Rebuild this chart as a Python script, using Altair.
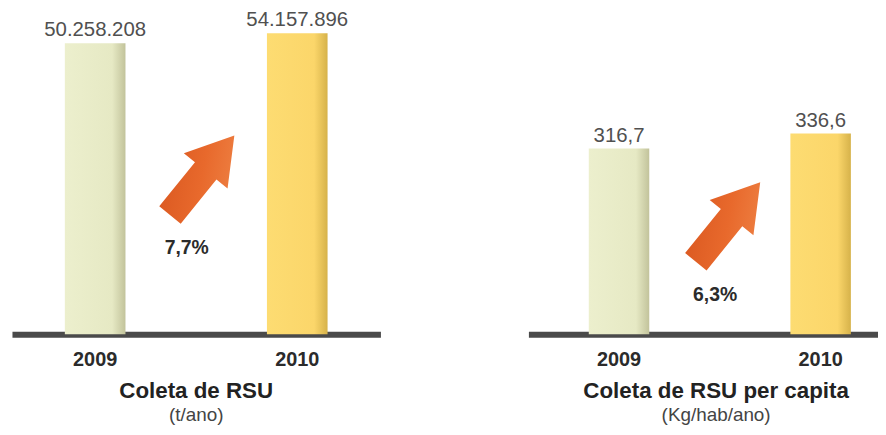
import altair as alt
import pandas as pd

# ---- data ----
years = ["2009", "2010"]
coleta = [50258208, 54157896]
coleta_labels = ["50.258.208", "54.157.896"]
percapita = [316.7, 336.6]
percapita_labels = ["316,7", "336,6"]
growth = ["7,7%", "6,3%"]
titles = ["Coleta de RSU", "Coleta de RSU per capita"]
units = ["(t/ano)", "(Kg/hab/ano)"]

# ---- style ----
FONT = "Liberation Sans"
PLOT_H = 327
ARROW = "M 0 -1 L 0.55 -0.11 L 0.27 -0.11 L 0.27 1 L -0.27 1 L -0.27 -0.11 L -0.55 -0.11 Z"

bar_stops = [
    [("#ecefcd", 0.0), ("#e6e9c4", 0.78), ("#c2c39b", 1.0)],
    [("#fddc72", 0.0), ("#fbd66a", 0.78), ("#d6b24a", 1.0)],
]
arrow_fill = alt.Gradient(
    gradient="linear", x1=1, y1=0, x2=0, y2=1,
    stops=[alt.GradientStop(color="#f0884a", offset=0),
           alt.GradientStop(color="#e8692c", offset=0.5),
           alt.GradientStop(color="#d8561f", offset=1)],
)


def panel(values, labels, pct, title, unit, width, ydom, pad_outer, align,
          arrow_xy, pct_xy, title_dx):
    df = pd.DataFrame({"ano": years, "valor": values, "rotulo": labels})
    x = alt.X(
        "ano:N",
        title=None,
        scale=alt.Scale(domain=years, paddingInner=0.7, paddingOuter=pad_outer, align=align),
        axis=alt.Axis(
            domain=True, domainColor="#4a4a4a", domainWidth=6, domainCap="butt",
            ticks=False, tickSize=0, labelPadding=16, labelAngle=0,
            labelFont=FONT, labelFontSize=20, labelFontWeight="bold", labelColor="#2b2b2b",
            grid=False,
        ),
    )
    y = alt.Y("valor:Q", scale=alt.Scale(domain=ydom, zero=False, nice=False), axis=None)
    base = alt.Chart(df)
    layers = []
    for yr, stops in zip(years, bar_stops):
        grad = alt.Gradient(
            gradient="linear", x1=0, y1=0, x2=1, y2=0,
            stops=[alt.GradientStop(color=c, offset=o) for c, o in stops],
        )
        layers.append(
            base.transform_filter(alt.datum.ano == yr)
            .mark_bar(fill=grad)
            .encode(x=x, y=y, y2=alt.datum(ydom[0]))
        )
    layers.append(
        base.mark_text(dy=-7, baseline="alphabetic", font=FONT, fontSize=20.5, color="#505050")
        .encode(x=x, y=y, text="rotulo:N")
    )
    ann = alt.Chart(pd.DataFrame({"p": [pct]}))
    layers.append(
        ann.mark_point(shape=ARROW, size=10609, angle=39, filled=True, fill=arrow_fill,
                       opacity=1, strokeWidth=0)
        .encode(x=alt.value(arrow_xy[0]), y=alt.value(arrow_xy[1]))
    )
    layers.append(
        ann.mark_text(baseline="alphabetic", font=FONT, fontSize=19.5, fontWeight="bold",
                      color="#2b2b2b")
        .encode(x=alt.value(pct_xy[0]), y=alt.value(pct_xy[1]), text="p:N")
    )
    return alt.layer(*layers).properties(
        width=width,
        height=PLOT_H,
        title=alt.TitleParams(
            text=title, subtitle=unit, orient="bottom", anchor="middle",
            font=FONT, fontSize=22.5, fontWeight="bold", color="#222222",
            subtitleFont=FONT, subtitleFontSize=19, subtitleColor="#444444",
            subtitleFontWeight="normal", offset=10, subtitlePadding=4, dx=title_dx,
        ),
    )


left = panel(coleta, coleta_labels, growth[0], titles[0], units[0], 371,
             [-63.89e6, 63.51e6], 0.2616, 0.5, (191.5, 167), (176, 246), 0)
right = panel(percapita, percapita_labels, growth[1], titles[1], units[1], 352,
              [68.6, 502.5], 0.217, 0.69, (201, 214), (188, 294), 13)

chart = (
    alt.hconcat(left, right, spacing=149)
    .properties(padding={"left": 4, "top": 0, "right": 0, "bottom": 0}, background="white")
    .configure_view(stroke=None)
)

chart.save("out.html", embed_options={"renderer": "svg", "actions": False})
